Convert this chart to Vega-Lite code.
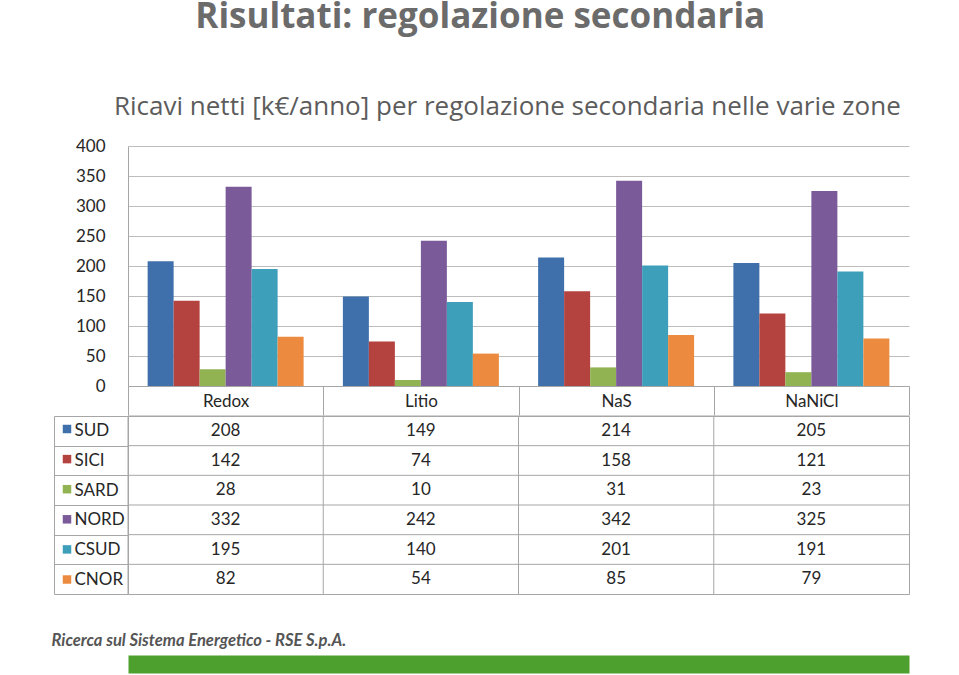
{
  "$schema": "https://vega.github.io/schema/vega-lite/v6.json",
  "background": "white",
  "padding": {"left": 50, "top": 0, "right": 40, "bottom": 10},
  "config": {
    "view": {"stroke": null},
    "font": "Lato",
    "axis": {"labelFont": "Lato", "labelFontSize": 17, "labelColor": "#262626"}
  },
  "title": {
    "text": "Risultati: regolazione secondaria",
    "anchor": "middle",
    "frame": "bounds",
    "font": "Open Sans",
    "fontSize": 35,
    "fontWeight": "bold",
    "color": "#6b6b6b",
    "offset": 59
  },
  "data": {
    "values": [
      {"tech": "Redox", "zona": "SUD", "ricavi": 208},
      {"tech": "Redox", "zona": "SICI", "ricavi": 142},
      {"tech": "Redox", "zona": "SARD", "ricavi": 28},
      {"tech": "Redox", "zona": "NORD", "ricavi": 332},
      {"tech": "Redox", "zona": "CSUD", "ricavi": 195},
      {"tech": "Redox", "zona": "CNOR", "ricavi": 82},
      {"tech": "Litio", "zona": "SUD", "ricavi": 149},
      {"tech": "Litio", "zona": "SICI", "ricavi": 74},
      {"tech": "Litio", "zona": "SARD", "ricavi": 10},
      {"tech": "Litio", "zona": "NORD", "ricavi": 242},
      {"tech": "Litio", "zona": "CSUD", "ricavi": 140},
      {"tech": "Litio", "zona": "CNOR", "ricavi": 54},
      {"tech": "NaS", "zona": "SUD", "ricavi": 214},
      {"tech": "NaS", "zona": "SICI", "ricavi": 158},
      {"tech": "NaS", "zona": "SARD", "ricavi": 31},
      {"tech": "NaS", "zona": "NORD", "ricavi": 342},
      {"tech": "NaS", "zona": "CSUD", "ricavi": 201},
      {"tech": "NaS", "zona": "CNOR", "ricavi": 85},
      {"tech": "NaNiCl", "zona": "SUD", "ricavi": 205},
      {"tech": "NaNiCl", "zona": "SICI", "ricavi": 121},
      {"tech": "NaNiCl", "zona": "SARD", "ricavi": 23},
      {"tech": "NaNiCl", "zona": "NORD", "ricavi": 325},
      {"tech": "NaNiCl", "zona": "CSUD", "ricavi": 191},
      {"tech": "NaNiCl", "zona": "CNOR", "ricavi": 79}
    ]
  },
  "spacing": -12,
  "vconcat": [
    {
      "width": 781,
      "height": 240,
      "title": {
        "text": "Ricavi netti [k€/anno] per regolazione secondaria nelle varie zone",
        "anchor": "start",
        "frame": "group",
        "dx": -14,
        "font": "Open Sans",
        "fontSize": 26,
        "fontWeight": "normal",
        "color": "#5c5c5c",
        "baseline": "alphabetic",
        "offset": -4
      },
      "mark": {"type": "bar"},
      "encoding": {
        "x": {
          "field": "tech",
          "type": "nominal",
          "sort": ["Redox", "Litio", "NaS", "NaNiCl"],
          "scale": {"paddingInner": 0, "paddingOuter": 0},
          "axis": {
            "title": null,
            "labelAngle": 0,
            "domainColor": "#a6a6a6",
            "ticks": true,
            "tickBand": "extent",
            "tickSize": 29,
            "tickColor": "#a6a6a6",
            "labelPadding": -22
          }
        },
        "xOffset": {
          "field": "zona",
          "type": "nominal",
          "sort": ["SUD", "SICI", "SARD", "NORD", "CSUD", "CNOR"],
          "scale": {"paddingInner": 0, "paddingOuter": 0.755}
        },
        "y": {
          "field": "ricavi",
          "type": "quantitative",
          "scale": {"domain": [0, 400]},
          "axis": {
            "title": null,
            "values": [0, 50, 100, 150, 200, 250, 300, 350, 400],
            "ticks": false,
            "domainColor": "#a6a6a6",
            "gridColor": "#bdbdbd",
            "labelPadding": 23
          }
        },
        "color": {
          "field": "zona",
          "type": "nominal",
          "sort": ["SUD", "SICI", "SARD", "NORD", "CSUD", "CNOR"],
          "scale": {
            "domain": ["SUD", "SICI", "SARD", "NORD", "CSUD", "CNOR"],
            "range": ["#3f70ab", "#b4423f", "#92b352", "#7a5a99", "#3e9fbb", "#ec8b3f"]
          },
          "legend": {
            "orient": "none",
            "legendX": -66,
            "legendY": 278,
            "title": null,
            "padding": 0,
            "symbolType": "square",
            "symbolSize": 72,
            "symbolStrokeWidth": 0,
            "labelExpr": "''",
            "rowPadding": 20.1
          }
        }
      }
    },
    {
      "width": 781,
      "height": 178,
      "view": {"stroke": "#a6a6a6"},
      "encoding": {
        "x": {
          "field": "tech",
          "type": "nominal",
          "sort": ["Redox", "Litio", "NaS", "NaNiCl"],
          "scale": {"paddingInner": 0, "paddingOuter": 0},
          "axis": {
            "labels": false,
            "ticks": false,
            "grid": false,
            "offset": 70,
            "domainColor": "#4ea02e",
            "domainWidth": 18,
            "title": "Ricerca sul Sistema Energetico - RSE S.p.A.",
            "titleFont": "Lato",
            "titleFontStyle": "italic",
            "titleFontWeight": "bold",
            "titleFontSize": 16.6,
            "titleColor": "#555555",
            "titleAlign": "left",
            "titleBaseline": "alphabetic",
            "titleX": -77,
            "titleY": -19
          }
        },
        "y": {
          "field": "zona",
          "type": "nominal",
          "sort": ["SUD", "SICI", "SARD", "NORD", "CSUD", "CNOR"],
          "scale": {"paddingInner": 0, "paddingOuter": 0},
          "axis": {
            "title": null,
            "offset": 74,
            "domainColor": "#a6a6a6",
            "ticks": true,
            "tickBand": "extent",
            "tickSize": -74,
            "tickColor": "#a6a6a6",
            "grid": false,
            "labelAlign": "left",
            "labelPadding": 54
          }
        }
      },
      "layer": [
        {
          "mark": {"type": "text", "font": "Lato", "fontSize": 17, "color": "#262626"},
          "encoding": {"text": {"field": "ricavi", "type": "quantitative"}}
        },
        {
          "transform": [{"aggregate": [{"op": "count", "as": "n"}], "groupby": ["tech"]}],
          "mark": {"type": "rule", "color": "#a6a6a6"},
          "encoding": {
            "x": {"field": "tech", "type": "nominal", "sort": ["Redox", "Litio", "NaS", "NaNiCl"], "bandPosition": 0},
            "y": null
          }
        },
        {
          "transform": [{"aggregate": [{"op": "count", "as": "n"}], "groupby": ["zona"]}],
          "mark": {"type": "rule", "color": "#a6a6a6"},
          "encoding": {
            "y": {"field": "zona", "type": "nominal", "sort": ["SUD", "SICI", "SARD", "NORD", "CSUD", "CNOR"], "bandPosition": 0},
            "x": null
          }
        }
      ]
    }
  ]
}
